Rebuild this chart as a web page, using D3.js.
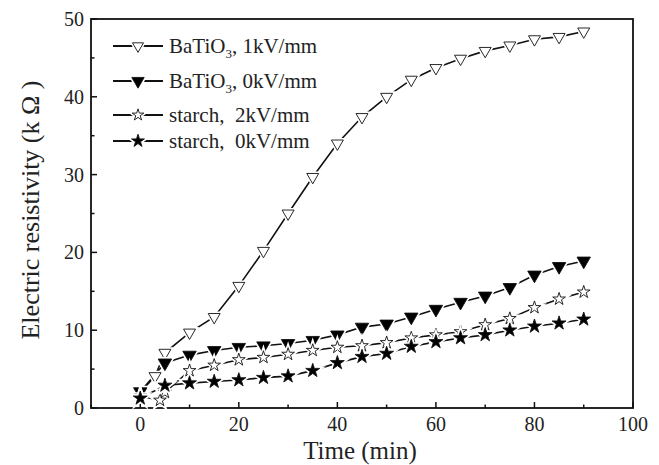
<!DOCTYPE html>
<html><head><meta charset="utf-8">
<script src="https://cdn.jsdelivr.net/npm/d3@7"></script>
<style>body{margin:0;background:#fff;} text{font-family:"Liberation Serif","Times New Roman",serif;}</style>
</head><body><svg id="c" width="659" height="465"></svg>
<script>
const xTicks = [0, 20, 40, 60, 80, 100];
const yTicks = [0, 10, 20, 30, 40, 50];
const seriesNames = ["BaTiO3, 1kV/mm", "BaTiO3, 0kV/mm", "starch,  2kV/mm", "starch,  0kV/mm"];
const tOpenTri = [0, 3, 5, 10, 15, 20, 25, 30, 35, 40, 45, 50, 55, 60, 65, 70, 75, 80, 85, 90];
const vOpenTri = [2.0, 4.1, 7.1, 9.7, 11.7, 15.7, 20.2, 25.0, 29.7, 34.0, 37.4, 40.0, 42.2, 43.7, 44.9, 45.9, 46.6, 47.4, 47.7, 48.4];
const tFillTri = [0, 5, 10, 15, 20, 25, 30, 35, 40, 45, 50, 55, 60, 65, 70, 75, 80, 85, 90];
const vFillTri = [2.1, 5.8, 6.8, 7.4, 7.8, 8.0, 8.3, 8.7, 9.4, 10.4, 10.8, 11.7, 12.7, 13.6, 14.4, 15.5, 17.1, 18.2, 18.9];
const tOpenStar = [0, 4, 5, 10, 15, 20, 25, 30, 35, 40, 45, 50, 55, 60, 65, 70, 75, 80, 85, 90];
const vOpenStar = [1.5, 1.0, 2.0, 4.8, 5.5, 6.2, 6.5, 6.9, 7.4, 7.8, 8.0, 8.4, 9.0, 9.4, 9.8, 10.7, 11.5, 12.9, 14.0, 14.9];
const tFillStar = [0, 5, 10, 15, 20, 25, 30, 35, 40, 45, 50, 55, 60, 65, 70, 75, 80, 85, 90];
const vFillStar = [1.25, 2.9, 3.2, 3.4, 3.6, 3.9, 4.1, 4.8, 5.8, 6.6, 7.0, 7.9, 8.5, 9.0, 9.4, 10.0, 10.5, 10.9, 11.4];

const svg = d3.select("#c");
const L = 91, R = 633, T = 19, B = 408;
const x = d3.scaleLinear().domain([-10, 100]).range([L, R]);
const y = d3.scaleLinear().domain([0, 50]).range([B, T]);

const series = [
  {name: seriesNames[0], t: tOpenTri, v: vOpenTri, sym: d3.symbolTriangle, size: 62, rot: 180, fill: "#fff"},
  {name: seriesNames[1], t: tFillTri, v: vFillTri, sym: d3.symbolTriangle, size: 78, rot: 180, fill: "#000"},
  {name: seriesNames[2], t: tOpenStar, v: vOpenStar, sym: d3.symbolStar, size: 50, rot: 0, fill: "#fff"},
  {name: seriesNames[3], t: tFillStar, v: vFillStar, sym: d3.symbolStar, size: 60, rot: 0, fill: "#000"}
];

svg.append("rect").attr("x", L).attr("y", T).attr("width", R - L).attr("height", B - T)
  .attr("fill", "none").attr("stroke", "#111").attr("stroke-width", 1.8);

const xMinor = d3.range(-10, 101, 10);
svg.selectAll(".xt").data(xMinor).enter().append("line")
  .attr("x1", d => x(d)).attr("x2", d => x(d)).attr("y1", B)
  .attr("y2", d => B - (d % 20 === 0 ? 6 : 3.5)).attr("stroke", "#111").attr("stroke-width", 1.5);
const yMinor = d3.range(0, 51, 5);
svg.selectAll(".yt").data(yMinor).enter().append("line")
  .attr("y1", d => y(d)).attr("y2", d => y(d)).attr("x1", L)
  .attr("x2", d => L + (d % 10 === 0 ? 6 : 3.5)).attr("stroke", "#111").attr("stroke-width", 1.5);

svg.selectAll(".xl").data(xTicks).enter().append("text")
  .attr("x", d => x(d)).attr("y", 431).attr("text-anchor", "middle")
  .attr("font-size", 20).attr("fill", "#222").text(d => d);
svg.selectAll(".yl").data(yTicks).enter().append("text")
  .attr("x", 84).attr("y", d => y(d) + 7).attr("text-anchor", "end")
  .attr("font-size", 20).attr("fill", "#222").text(d => d);

svg.append("text").attr("x", 360).attr("y", 459).attr("text-anchor", "middle")
  .attr("font-size", 25).attr("fill", "#222").text("Time (min)");
svg.append("text").attr("transform", "translate(39,210) rotate(-90)").attr("text-anchor", "middle")
  .attr("font-size", 26).attr("fill", "#222").attr("xml:space", "preserve").text("Electric resistivity (k \u03A9 )");

const line = d3.line().x(d => x(d[0])).y(d => y(d[1]));
series.forEach(s => {
  const pts = s.t.map((t, i) => [t, s.v[i]]);
  svg.append("path").attr("d", line(pts)).attr("fill", "none")
    .attr("stroke", "#111").attr("stroke-width", 1.6);
});
series.forEach(s => {
  const pts = s.t.map((t, i) => [t, s.v[i]]);
  const sym = d3.symbol().type(s.sym).size(s.size);
  const g = svg.append("g");
  g.selectAll(".h").data(pts).enter().append("path").attr("d", sym)
    .attr("transform", d => `translate(${x(d[0])},${y(d[1])}) rotate(${s.rot})`)
    .attr("fill", "#fff").attr("stroke", "#fff").attr("stroke-width", 4);
  g.selectAll(".m").data(pts).enter().append("path").attr("d", sym)
    .attr("transform", d => `translate(${x(d[0])},${y(d[1])}) rotate(${s.rot})`)
    .attr("fill", s.fill).attr("stroke", "#111").attr("stroke-width", 0.9);
});

const legY = [46, 81, 115, 141];
series.forEach((s, i) => {
  const g = svg.append("g");
  g.append("line").attr("x1", 113).attr("x2", 163).attr("y1", legY[i]).attr("y2", legY[i])
    .attr("stroke", "#111").attr("stroke-width", 1.8);
  const sym = d3.symbol().type(s.sym).size(s.size * 0.85);
  g.append("path").attr("d", sym).attr("transform", `translate(138,${legY[i]}) rotate(${s.rot})`)
    .attr("fill", "#fff").attr("stroke", "#fff").attr("stroke-width", 4);
  g.append("path").attr("d", sym).attr("transform", `translate(138,${legY[i]}) rotate(${s.rot})`)
    .attr("fill", s.fill).attr("stroke", "#111").attr("stroke-width", 0.9);
  const tx = g.append("text").attr("x", 169).attr("y", legY[i] + 7).attr("font-size", 21).attr("fill", "#222")
    .attr("xml:space", "preserve");
  if (s.name.startsWith("BaTiO3")) {
    tx.append("tspan").text("BaTiO");
    tx.append("tspan").attr("font-size", 13).attr("dy", 5).text("3");
    tx.append("tspan").attr("dy", -5).text(s.name.slice(6));
  } else {
    tx.text(s.name);
  }
});
</script></body></html>
